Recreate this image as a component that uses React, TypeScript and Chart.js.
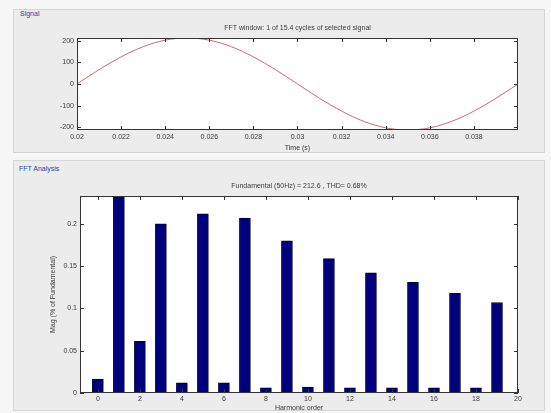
import React, { useEffect, useRef } from 'react';
import { Chart, registerables } from 'chart.js';

Chart.register(...registerables);

// ---- Signal panel data ----
const signalTime = [0.020, 0.021, 0.022, 0.023, 0.024, 0.025, 0.026, 0.027, 0.028, 0.029, 0.030, 0.031, 0.032, 0.033, 0.034, 0.035, 0.036, 0.037, 0.038, 0.039, 0.040];
const signalValue = [0, 66, 125, 172, 202, 213, 202, 172, 125, 66, 0, -66, -125, -172, -202, -213, -202, -172, -125, -66, 0];
const timeTicks = [0.02, 0.022, 0.024, 0.026, 0.028, 0.03, 0.032, 0.034, 0.036, 0.038];
const timeTickLabels = ['0.02', '0.022', '0.024', '0.026', '0.028', '0.03', '0.032', '0.034', '0.036', '0.038'];
const signalTicks = [-200, -100, 0, 100, 200];
const signalTickLabels = ['-200', '-100', '0', '100', '200'];

// ---- FFT panel data ----
const harmonicOrder = [0, 1, 2, 3, 4, 5, 6, 7, 8, 9, 10, 11, 12, 13, 14, 15, 16, 17, 18, 19];
const harmonicMag = [0.0165, 100, 0.061, 0.200, 0.012, 0.212, 0.012, 0.207, 0.006, 0.180, 0.007, 0.159, 0.006, 0.142, 0.006, 0.131, 0.006, 0.118, 0.006, 0.107];
const harmonicTicks = [0, 2, 4, 6, 8, 10, 12, 14, 16, 18, 20];
const magTicks = [0, 0.05, 0.1, 0.15, 0.2];
const magTickLabels = ['0', '0.05', '0.1', '0.15', '0.2'];

const signalTitle = 'FFT window: 1 of 15.4 cycles of selected signal';
const fftTitle = 'Fundamental (50Hz) = 212.6 , THD= 0.68%';

const FONT = "'Liberation Sans', Arial, sans-serif";
const TXT = '#3a3a3a';

const boxPlugin = {
  id: 'matlabBox',
  beforeDraw(chart: any) {
    const { ctx, chartArea } = chart;
    ctx.save();
    ctx.fillStyle = '#ffffff';
    ctx.fillRect(chartArea.left, chartArea.top, chartArea.right - chartArea.left, chartArea.bottom - chartArea.top);
    ctx.restore();
  },
  afterDatasetsDraw(chart: any) {
    const { ctx, chartArea } = chart;
    const { left, right, top, bottom } = chartArea;
    const x = chart.scales.x;
    const y = chart.scales.y;
    ctx.save();
    ctx.strokeStyle = '#333333';
    ctx.lineWidth = 1;
    ctx.strokeRect(Math.round(left) + 0.5, Math.round(top) + 0.5, Math.round(right - left) - 1, Math.round(bottom - top) - 1);
    const L = 4;
    ctx.beginPath();
    x.ticks.forEach((t: any) => {
      const px = Math.round(x.getPixelForValue(t.value)) + 0.5;
      ctx.moveTo(px, bottom);
      ctx.lineTo(px, bottom - L);
      ctx.moveTo(px, top);
      ctx.lineTo(px, top + L);
    });
    y.ticks.forEach((t: any) => {
      const py = Math.round(y.getPixelForValue(t.value)) + 0.5;
      ctx.moveTo(left, py);
      ctx.lineTo(left + L, py);
      ctx.moveTo(right, py);
      ctx.lineTo(right - L, py);
    });
    ctx.stroke();
    ctx.restore();
  },
};

function SignalChart() {
  const ref = useRef<HTMLCanvasElement | null>(null);
  useEffect(() => {
    if (!ref.current) return;
    const chart = new Chart(ref.current, {
      type: 'line',
      data: {
        datasets: [
          {
            data: signalTime.map((t, i) => ({ x: t, y: signalValue[i] })),
            borderColor: '#c86a72',
            borderWidth: 1,
            pointRadius: 0,
            cubicInterpolationMode: 'monotone',
            fill: false,
          },
        ],
      },
      options: {
        animation: false,
        responsive: false,
        events: [],
        layout: { padding: { left: 0, right: 27, top: 0, bottom: 0 } },
        plugins: {
          legend: { display: false },
          tooltip: { enabled: false },
          title: {
            display: true,
            text: signalTitle,
            fullSize: false,
            color: TXT,
            font: { family: FONT, size: 7, weight: 'normal', lineHeight: 1.2 },
            padding: { top: 13.6, bottom: 6 },
          },
        },
        scales: {
          x: {
            type: 'linear',
            min: 0.02,
            max: 0.04,
            grid: { display: false, drawTicks: false },
            border: { display: false },
            afterBuildTicks: (s: any) => {
              s.ticks = timeTicks.map((v) => ({ value: v }));
            },
            afterFit: (s: any) => {
              s.height = 22;
            },
            ticks: {
              autoSkip: false,
              maxRotation: 0,
              padding: 2.5,
              color: TXT,
              font: { family: FONT, size: 7 },
              callback: (_v: any, i: number) => timeTickLabels[i],
            },
            title: {
              display: true,
              text: 'Time (s)',
              color: TXT,
              font: { family: FONT, size: 7, lineHeight: 1.2 },
              padding: { top: 0, bottom: 0 },
            },
          },
          y: {
            type: 'linear',
            min: -212,
            max: 212,
            grid: { display: false, drawTicks: false },
            border: { display: false },
            afterBuildTicks: (s: any) => {
              s.ticks = signalTicks.map((v) => ({ value: v }));
            },
            afterFit: (s: any) => {
              s.width = 64;
            },
            ticks: {
              autoSkip: false,
              padding: 3,
              color: TXT,
              font: { family: FONT, size: 7 },
              callback: (_v: any, i: number) => signalTickLabels[i],
            },
          },
        },
      } as any,
      plugins: [boxPlugin],
    });
    return () => chart.destroy();
  }, []);
  return (
    <canvas
      ref={ref}
      width={532}
      height={142}
      style={{ position: 'absolute', left: 13, top: 10, width: 532, height: 142, display: 'block' }}
    />
  );
}

function FftChart() {
  const ref = useRef<HTMLCanvasElement | null>(null);
  useEffect(() => {
    if (!ref.current) return;
    const chart = new Chart(ref.current, {
      type: 'bar',
      data: {
        datasets: [
          {
            data: harmonicOrder.map((h, i) => ({ x: h, y: harmonicMag[i] })),
            backgroundColor: '#00007f',
            borderColor: '#000033',
            borderWidth: 1,
            barThickness: 11,
          },
        ],
      },
      options: {
        animation: false,
        responsive: false,
        events: [],
        layout: { padding: { left: 0, right: 27, top: 0, bottom: 0 } },
        plugins: {
          legend: { display: false },
          tooltip: { enabled: false },
          title: {
            display: true,
            text: fftTitle,
            fullSize: false,
            color: TXT,
            font: { family: FONT, size: 7, weight: 'normal', lineHeight: 1.2 },
            padding: { top: 21.8, bottom: 5.8 },
          },
        },
        scales: {
          x: {
            type: 'linear',
            min: -0.85,
            max: 20,
            offset: false,
            grid: { display: false, drawTicks: false, offset: false },
            border: { display: false },
            afterBuildTicks: (s: any) => {
              s.ticks = harmonicTicks.map((v) => ({ value: v }));
            },
            afterFit: (s: any) => {
              s.height = 20;
            },
            ticks: {
              autoSkip: false,
              maxRotation: 0,
              padding: 2,
              color: TXT,
              font: { family: FONT, size: 7 },
              callback: (v: any) => String(v),
            },
            title: {
              display: true,
              text: 'Harmonic order',
              color: TXT,
              font: { family: FONT, size: 7, lineHeight: 1.2 },
              padding: { top: 0, bottom: 0.8 },
            },
          },
          y: {
            type: 'linear',
            min: 0,
            max: 0.233,
            grid: { display: false, drawTicks: false },
            border: { display: false },
            afterBuildTicks: (s: any) => {
              s.ticks = magTicks.map((v) => ({ value: v }));
            },
            afterFit: (s: any) => {
              s.width = 67;
            },
            ticks: {
              autoSkip: false,
              padding: 3,
              color: TXT,
              font: { family: FONT, size: 7 },
              callback: (_v: any, i: number) => magTickLabels[i],
            },
            title: {
              display: true,
              text: 'Mag (% of Fundamental)',
              color: TXT,
              font: { family: FONT, size: 7, lineHeight: 1.2 },
              padding: { top: 35.8, bottom: 0 },
            },
          },
        },
      } as any,
      plugins: [boxPlugin],
    });
    return () => chart.destroy();
  }, []);
  return (
    <canvas
      ref={ref}
      width={532}
      height={253}
      style={{ position: 'absolute', left: 13, top: 160, width: 532, height: 253, display: 'block' }}
    />
  );
}

export default function App() {
  const panel: React.CSSProperties = {
    position: 'absolute',
    boxSizing: 'border-box',
    background: '#ececec',
    border: '1px solid #d6d6d6',
  };
  const label: React.CSSProperties = {
    position: 'absolute',
    fontFamily: FONT,
    fontSize: 7,
    color: '#2a44a0',
    lineHeight: '8px',
    background: '#ececec',
    padding: '0 1px',
  };
  return (
    <div style={{ position: 'absolute', left: 0, top: 0, width: 551, height: 413, background: '#f6f6f6', overflow: 'hidden' }}>
      <div style={{ ...panel, left: 13, top: 9, width: 532, height: 144 }} />
      <div style={{ ...panel, left: 13, top: 160, width: 532, height: 251 }} />
      <div style={{ ...label, left: 19, top: 10 }}>Signal</div>
      <div style={{ ...label, left: 18, top: 165 }}>FFT Analysis</div>
      <SignalChart />
      <FftChart />
    </div>
  );
}
